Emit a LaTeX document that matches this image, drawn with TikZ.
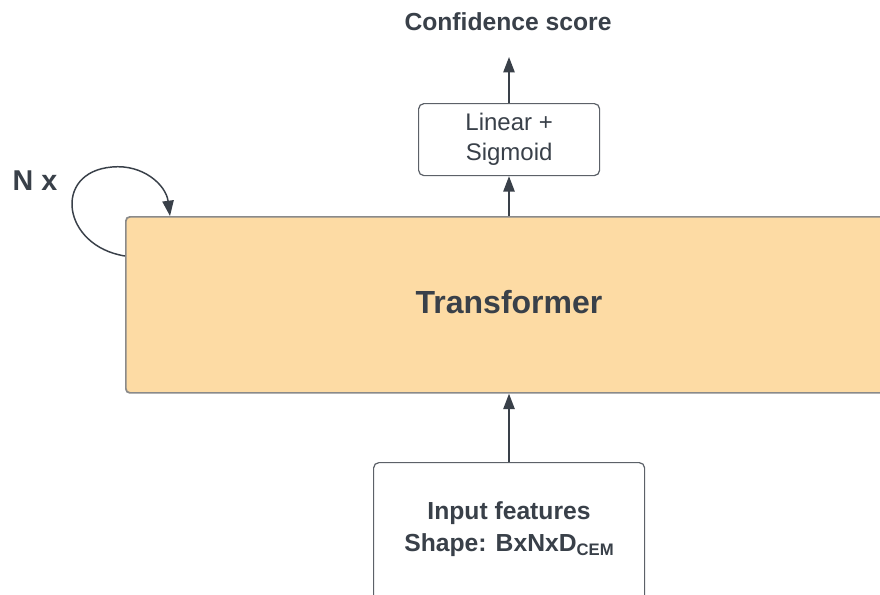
\documentclass[tikz,border=0pt]{standalone}
\usepackage{fontspec}
\setmainfont{Liberation Sans}
\usetikzlibrary{arrows.meta}
\definecolor{ink}{HTML}{394049}
\definecolor{tfill}{HTML}{FDDBA4}
\definecolor{tedge}{HTML}{8A8A8A}
\definecolor{bedge}{HTML}{5C6168}
\tikzset{
  conn/.style={draw=ink, line width=1.1pt, -{Triangle[length=11.5pt,width=8.5pt]}},
  box/.style={draw=bedge, line width=0.9pt, rounded corners=4pt, fill=white, text=ink, align=center, inner sep=0pt},
  tbox/.style={draw=tedge, line width=1.3pt, rounded corners=3pt, fill=tfill, text=ink, inner sep=0pt},
  lbl/.style={text=ink, inner sep=0pt, align=center}
}
\begin{document}
\begin{tikzpicture}[x=0.75pt, y=-0.75pt]
\clip (0,0) rectangle (880,594);
\fill[white] (0,0) rectangle (880,594);
% transformer block, running off the right edge
\node[tbox, anchor=north west, minimum width=576pt, minimum height=132pt] (trans) at (125,216) {};
\node[lbl, font=\fontsize{24}{28}\selectfont\bfseries] (transtxt) at (509,302) {Transformer};
% output head
\node[box, anchor=north west, minimum width=135.75pt, minimum height=54pt,
      font=\fontsize{18}{22.5}\selectfont] (head) at (418,103) {Linear +\\Sigmoid};
% input box, running off the bottom edge
\node[box, anchor=north west, minimum width=203.25pt, minimum height=140pt] (inp) at (373,462) {};
\node[lbl, anchor=center, font=\fontsize{18.5}{23.5}\selectfont\bfseries] (inptxt) at (509,529)
  {Input features\\
   Shape: BxNxD\raisebox{-3.5pt}{\fontsize{12.5}{13}\selectfont CEM}};
% labels
\node[lbl, font=\fontsize{18.5}{22}\selectfont\bfseries] (conf) at (508,22) {Confidence score};
\node[lbl, font=\fontsize{21.5}{24}\selectfont\bfseries] (nx) at (35,181) {N x};
\coordinate (out) at (509,57);
% connectors
\draw[conn] (inp.north -| 509,0) -- (trans.south -| 509,0);
\draw[conn] (trans.north -| 509,0) -- (head.south -| 509,0);
\draw[conn] (head.north -| 509,0) -- (out);
% repetition loop
\coordinate (loopin) at (trans.north west -| 170,0);
\coordinate (loopout) at (125,256);
\draw[conn] (loopout) .. controls (62,246) and (52,172) .. (112,167)
  .. controls (143,164) and (166,185) .. (loopin);
\end{tikzpicture}
\end{document}
